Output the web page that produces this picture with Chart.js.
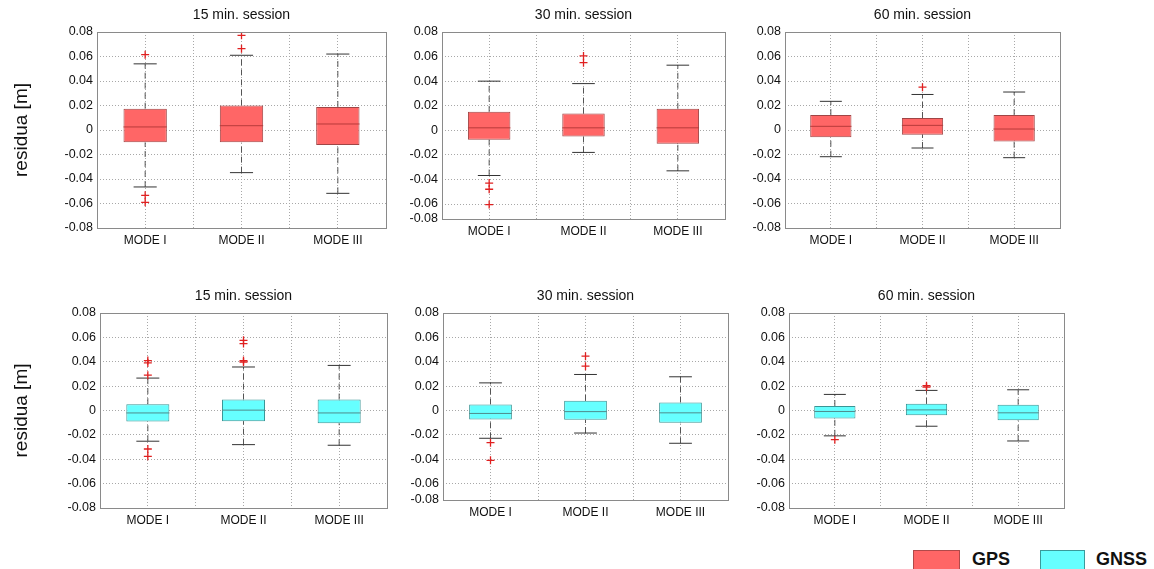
<!DOCTYPE html>
<html><head><meta charset="utf-8">
<script src="https://cdn.jsdelivr.net/npm/chart.js@4"></script>
<style>
body{margin:0;background:#fff;width:1154px;height:569px;overflow:hidden;position:relative;font-family:"Liberation Sans",Arial,sans-serif;}
canvas{position:absolute;}
.sw{position:absolute;top:550px;height:24px;box-sizing:border-box;}
.lt{position:absolute;top:548px;font-weight:bold;font-size:18px;color:#111;line-height:22px;}
</style></head><body>
<div class="sw" style="left:913px;width:47px;background:#ff6666;border:1px solid #b04a4a"></div>
<div class="lt" style="left:972px">GPS</div>
<div class="sw" style="left:1040px;width:45px;background:#66ffff;border:1px solid #3a9a9a"></div>
<div class="lt" style="left:1096px">GNSS</div>
<script>
// ---------- DATA ----------
const categories = ['MODE I', 'MODE II', 'MODE III'];
const sessionTitles = ['15 min. session', '30 min. session', '60 min. session'];
const yTickLabels = ['-0.08', '-0.06', '-0.04', '-0.02', '0', '0.02', '0.04', '0.06', '0.08'];
const yTickValues = [-0.08, -0.06, -0.04, -0.02, 0, 0.02, 0.04, 0.06, 0.08];
const seriesNames = ['GPS', 'GNSS'];

// five-number summaries per mode: [lower whisker, Q1, median, Q3, upper whisker]
const gps15 = [[-0.0465, -0.0101, 0.0025, 0.0174, 0.0540], [-0.0348, -0.0101, 0.0035, 0.0201, 0.0610], [-0.0517, -0.0122, 0.0049, 0.0188, 0.0620]];
const gps15Outliers = [[0.0615, -0.0533, -0.0590], [0.0773, 0.0664], []];
const gps30 = [[-0.0368, -0.0076, 0.0020, 0.0150, 0.0400], [-0.0180, -0.0050, 0.0020, 0.0136, 0.0380], [-0.0330, -0.0110, 0.0020, 0.0175, 0.0530]];
const gps30Outliers = [[-0.0430, -0.0480, -0.0605], [0.0605, 0.0550], []];
const gps60 = [[-0.0218, -0.0060, 0.0030, 0.0122, 0.0234], [-0.0147, -0.0038, 0.0038, 0.0098, 0.0290], [-0.0226, -0.0093, 0.0008, 0.0122, 0.0310]];
const gps60Outliers = [[], [0.0350], []];
const gnss15 = [[-0.0252, -0.0090, -0.0020, 0.0052, 0.0266], [-0.0280, -0.0088, 0.0003, 0.0090, 0.0357], [-0.0285, -0.0104, -0.0020, 0.0090, 0.0370]];
const gnss15Outliers = [[0.0410, 0.0390, 0.0290, -0.0316, -0.0376], [0.0576, 0.0549, 0.0410, 0.0398], []];
const gnss30 = [[-0.0229, -0.0074, -0.0025, 0.0049, 0.0226], [-0.0186, -0.0076, -0.0010, 0.0079, 0.0295], [-0.0270, -0.0101, -0.0020, 0.0065, 0.0276]];
const gnss30Outliers = [[-0.0265, -0.0410], [0.0445, 0.0363], []];
const gnss60 = [[-0.0208, -0.0066, -0.0008, 0.0036, 0.0132], [-0.0129, -0.0038, 0.0005, 0.0055, 0.0165], [-0.0250, -0.0080, -0.0019, 0.0047, 0.0170]];
const gnss60Outliers = [[-0.0239], [0.0203, 0.0192], []];

// ---------- LAYOUT / STYLE ----------
const styles = {
  GPS:  { fill: '#ff6666', edge: '#a04545', median: '#b83a3a' },
  GNSS: { fill: '#66ffff', edge: '#3a9595', median: '#4f8c8c' }
};
const panels = [
  { stats: gps15,  out: gps15Outliers,  title: sessionTitles[0], s: 'GPS',  L: 97,  T: 32,  R: 386,  B: 228, yTitle: true,  yMin: -0.08 },
  { stats: gps30,  out: gps30Outliers,  title: sessionTitles[1], s: 'GPS',  L: 442, T: 32,  R: 725,  B: 219, yTitle: false, yMin: -0.0722 },
  { stats: gps60,  out: gps60Outliers,  title: sessionTitles[2], s: 'GPS',  L: 785, T: 32,  R: 1060, B: 228, yTitle: false, yMin: -0.08 },
  { stats: gnss15, out: gnss15Outliers, title: sessionTitles[0], s: 'GNSS', L: 100, T: 313, R: 387,  B: 508, yTitle: true,  yMin: -0.08 },
  { stats: gnss30, out: gnss30Outliers, title: sessionTitles[1], s: 'GNSS', L: 443, T: 313, R: 728,  B: 500, yTitle: false, yMin: -0.0736 },
  { stats: gnss60, out: gnss60Outliers, title: sessionTitles[2], s: 'GNSS', L: 789, T: 313, R: 1064, B: 508, yTitle: false, yMin: -0.08 }
];

const HALF_BOX = 0.225, HALF_CAP = 0.12;
const FONT = '"Liberation Sans", Arial, sans-serif';

const boxPlugin = {
  id: 'boxp',
  beforeDatasetsDraw(chart, args, opts) {
    const { ctx, scales: { x, y } } = chart;
    ctx.save();
    opts.stats.forEach((s, i) => {
      const xc = x.getPixelForValue(i + 1);
      ctx.strokeStyle = '#555';
      ctx.lineWidth = 1;
      ctx.setLineDash([6, 4]);
      ctx.beginPath();
      ctx.moveTo(xc, y.getPixelForValue(s[0])); ctx.lineTo(xc, y.getPixelForValue(s[1]));
      ctx.moveTo(xc, y.getPixelForValue(s[3])); ctx.lineTo(xc, y.getPixelForValue(s[4]));
      ctx.stroke();
      ctx.setLineDash([]);
      ctx.strokeStyle = '#333';
      const xl = x.getPixelForValue(i + 1 - HALF_CAP), xr = x.getPixelForValue(i + 1 + HALF_CAP);
      ctx.beginPath();
      ctx.moveTo(xl, y.getPixelForValue(s[0])); ctx.lineTo(xr, y.getPixelForValue(s[0]));
      ctx.moveTo(xl, y.getPixelForValue(s[4])); ctx.lineTo(xr, y.getPixelForValue(s[4]));
      ctx.stroke();
    });
    ctx.restore();
  },
  afterDatasetDraw(chart, args, opts) {
    if (args.index !== 0) return;
    const { ctx, scales: { x, y } } = chart;
    ctx.save();
    ctx.strokeStyle = opts.median;
    ctx.lineWidth = 1;
    opts.stats.forEach((s, i) => {
      const ym = y.getPixelForValue(s[2]);
      ctx.beginPath();
      ctx.moveTo(x.getPixelForValue(i + 1 - HALF_BOX), ym);
      ctx.lineTo(x.getPixelForValue(i + 1 + HALF_BOX), ym);
      ctx.stroke();
    });
    ctx.restore();
  },
  afterDraw(chart) {
    const { ctx, chartArea: a } = chart;
    ctx.save();
    ctx.strokeStyle = '#8a8a8a';
    ctx.lineWidth = 1;
    ctx.strokeRect(Math.round(a.left) + 0.5, Math.round(a.top) + 0.5, Math.round(a.right - a.left), Math.round(a.bottom - a.top));
    ctx.restore();
  }
};

panels.forEach(p => {
  const st = styles[p.s];
  const cl = p.yTitle ? 0 : p.L - 48;
  const ct = p.T - 32;
  const center = (p.L + p.R) / 2;
  const cw = Math.round(2 * (center - cl));
  const padR = cw - (p.R - cl);
  const ch = p.B - ct + 28;
  const c = document.createElement('canvas');
  c.width = cw; c.height = ch;
  c.style.left = cl + 'px'; c.style.top = ct + 'px';
  c.style.width = cw + 'px'; c.style.height = ch + 'px';
  document.body.appendChild(c);

  new Chart(c, {
    type: 'bar',
    data: {
      datasets: [
        {
          type: 'bar', label: p.s, order: 2,
          data: p.stats.map((s, i) => ({ x: i + 1, y: [s[1], s[3]] })),
          backgroundColor: st.fill, borderColor: st.edge, borderWidth: 1, borderSkipped: false,
          categoryPercentage: 1, barPercentage: 0.9
        },
        {
          type: 'scatter', label: 'outliers', order: 1,
          data: p.out.flatMap((arr, i) => arr.map(v => ({ x: i + 1, y: v }))),
          pointStyle: 'cross', pointRadius: 4, borderColor: '#e02020', borderWidth: 1.3, backgroundColor: '#e02020'
        }
      ]
    },
    options: {
      responsive: false, animation: false, devicePixelRatio: 1,
      layout: { padding: 0 },
      plugins: {
        legend: { display: false }, tooltip: { enabled: false },
        title: { display: true, text: p.title, color: '#111', font: { family: FONT, size: 14, weight: 'normal', lineHeight: 1.2 }, padding: { top: 7, bottom: 8.2 } },
        boxp: { stats: p.stats, median: st.median }
      },
      scales: {
        x: {
          type: 'linear', min: 0.5, max: 3.5, offset: false,
          afterBuildTicks: s => { s.ticks = [0.5, 1, 1.5, 2, 2.5, 3, 3.5].map(v => ({ value: v })); },
          afterFit: s => { s.height = 28; },
          ticks: {
            autoSkip: false, maxRotation: 0, padding: 5, color: '#111',
            font: { family: FONT, size: 12 },
            callback: v => (Number.isInteger(v) ? categories[v - 1] : '')
          },
          grid: { color: '#a8a8a8', lineWidth: 1, drawTicks: false, offset: false },
          border: { display: false, dash: [1, 2] }
        },
        y: {
          type: 'linear', min: p.yMin, max: 0.08,
          afterBuildTicks: s => { s.ticks = yTickValues.map((v, i) => ({ value: i === 0 ? p.yMin : v })); },
          afterFit: s => { s.width = p.L - cl; },
          ticks: {
            autoSkip: false, padding: 4, color: '#111',
            font: { family: FONT, size: 12.5 },
            callback: (v, i) => yTickLabels[i]
          },
          grid: { color: '#a8a8a8', lineWidth: 1, drawTicks: false },
          border: { display: false, dash: [1, 2] },
          title: { display: p.yTitle, text: 'residua [m]', color: '#111', font: { family: FONT, size: 19, weight: 'normal' }, padding: { top: 10, bottom: 0 } }
        },
        yRight: {
          type: 'linear', position: 'right', display: true,
          afterFit: s => { s.width = padR; },
          ticks: { display: false },
          grid: { display: false, drawTicks: false },
          border: { display: false }
        }
      }
    },
    plugins: [boxPlugin]
  });
});
</script>
</body></html>
